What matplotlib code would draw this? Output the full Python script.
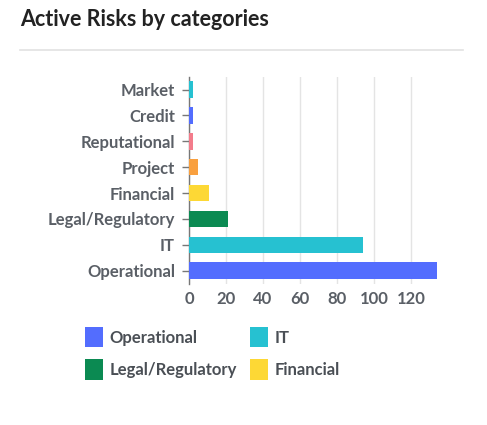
import matplotlib
matplotlib.use("Agg")
import matplotlib.pyplot as plt
from matplotlib.lines import Line2D

plt.rcParams['font.family'] = ['Lato', 'DejaVu Sans']

categories = ["Operational", "IT", "Legal/Regulatory", "Financial",
              "Project", "Reputational", "Credit", "Market"]
values = [134, 94, 21, 11, 5, 2, 2, 2]
colors = ["#536dfe", "#26c1d1", "#0b8a52", "#fdd835",
          "#f9a03f", "#f37c8b", "#536dfe", "#26c1d1"]
xticks = [0, 20, 40, 60, 80, 100, 120]
# legend is filled column by column: first column, then second
legend_items = ["Operational", "Legal/Regulatory", "IT", "Financial"]

W, H = 487, 425
fig = plt.figure(figsize=(W / 100, H / 100), dpi=100)
fig.patch.set_facecolor("white")

# header
fig.text(20 / W, 1 - 19 / H, "Active Risks by categories", fontsize=15.5,
         fontweight="bold", color="#222222", va="center", ha="left")
fig.add_artist(Line2D([20 / W, 463 / W], [1 - 50 / H, 1 - 50 / H],
                      color="#e2e2e2", lw=1.2, transform=fig.transFigure))

ax = fig.add_axes([189 / W, 1 - 283.6 / H, 248 / W, 207 / H])
bars = ax.barh(range(len(categories)), values, height=0.64, color=colors, zorder=3)

ax.set_xlim(0, 134)
ax.set_ylim(-0.5, len(categories) - 0.5)
ax.set_yticks(range(len(categories)))
ax.set_yticklabels(categories)
ax.set_xticks(xticks)
ax.grid(axis="x", color="#e4e4e4", lw=1, zorder=0)

for s in ["top", "right", "bottom"]:
    ax.spines[s].set_visible(False)
ax.spines["left"].set_color("#777777")
ax.spines["left"].set_linewidth(1)
ax.tick_params(axis="y", length=5, width=1, color="#777777", pad=5,
               labelsize=12, labelcolor="#5a5f66")
ax.tick_params(axis="x", length=0, pad=5, labelsize=12, labelcolor="#5a5f66")
for lab in ax.get_yticklabels() + ax.get_xticklabels():
    lab.set_fontweight("bold")

handles = [bars[categories.index(n)] for n in legend_items]
leg = fig.legend(handles, legend_items, loc="upper left",
                 bbox_to_anchor=(85 / W, 1 - 327 / H), ncol=2, frameon=False,
                 borderpad=0, borderaxespad=0,
                 fontsize=12, handlelength=1.05, handleheight=1.5,
                 handletextpad=0.42, columnspacing=0.8, labelspacing=0.72)
for t in leg.get_texts():
    t.set_color("#4a4f55")
    t.set_fontweight("bold")

fig.savefig("out.png", dpi=100, facecolor="white")
